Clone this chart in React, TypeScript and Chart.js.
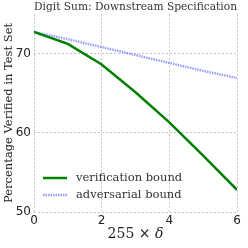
import React, { useEffect, useRef } from "react";
import { Chart, registerables } from "chart.js";

Chart.register(...registerables);

const deltas = [0, 1, 2, 3, 4, 5, 6];
const verificationBound = [72.7, 71.2, 68.6, 65.1, 61.3, 57.1, 52.8];
const adversarialBound = [72.7, 71.8, 70.8, 69.8, 68.8, 67.8, 66.9];
const yTicks = [50, 60, 70];
const xTicks = [0, 2, 4, 6];
const seriesNames = ["verification bound", "adversarial bound"];
const xTitleParts = ["255 × ", "δ"];

const SERIF = "'DejaVu Serif', serif";
const SANS = "'DejaVu Sans', sans-serif";

const legendPlugin = {
  id: "innerLegend",
  afterDatasetsDraw(chart: any) {
    const { ctx, chartArea } = chart;
    ctx.save();
    chart.data.datasets.forEach((ds: any, i: number) => {
      const y = chartArea.bottom - 34 + i * 17;
      const x0 = chartArea.left + 9;
      ctx.beginPath();
      ctx.strokeStyle = ds.borderColor;
      ctx.lineWidth = ds.borderWidth;
      ctx.setLineDash(ds.borderDash || []);
      ctx.moveTo(x0, y);
      ctx.lineTo(x0 + 24, y);
      ctx.stroke();
      ctx.setLineDash([]);
      ctx.fillStyle = "#333";
      ctx.font = `11.5px ${SERIF}`;
      ctx.textBaseline = "middle";
      ctx.textAlign = "left";
      ctx.fillText(ds.label, x0 + 33, y);
    });
    // x axis title with italic delta
    const cx = (chartArea.left + chartArea.right) / 2;
    const ty = 234;
    ctx.font = `14px ${SERIF}`;
    const w1 = ctx.measureText(xTitleParts[0]).width;
    ctx.font = `italic 14px ${SERIF}`;
    const w2 = ctx.measureText(xTitleParts[1]).width;
    let x = cx - (w1 + w2) / 2;
    ctx.fillStyle = "#222";
    ctx.textBaseline = "middle";
    ctx.textAlign = "left";
    ctx.font = `14px ${SERIF}`;
    ctx.fillText(xTitleParts[0], x, ty);
    ctx.font = `italic 14px ${SERIF}`;
    ctx.fillText(xTitleParts[1], x + w1, ty);
    ctx.restore();
  },
};

export default function App() {
  const ref = useRef<HTMLCanvasElement>(null);
  useEffect(() => {
    document.body.style.margin = "0";
    const chart = new Chart(ref.current!, {
      type: "line",
      data: {
        labels: deltas,
        datasets: [
          {
            label: seriesNames[0],
            data: deltas.map((d, i) => ({ x: d, y: verificationBound[i] })),
            borderColor: "#008000",
            borderWidth: 2.5,
            pointRadius: 0,
            tension: 0,
          },
          {
            label: seriesNames[1],
            data: deltas.map((d, i) => ({ x: d, y: adversarialBound[i] })),
            borderColor: "rgba(60,60,255,0.5)",
            borderWidth: 2.5,
            borderDash: [1.5, 1],
            pointRadius: 0,
            tension: 0,
          },
        ],
      },
      options: {
        animation: false,
        responsive: false,
        layout: { padding: { top: 0, right: 11, bottom: 0, left: 0 } },
        plugins: {
          legend: { display: false },
          tooltip: { enabled: false },
          title: {
            display: true,
            text: "Digit Sum: Downstream Specification",
            fullSize: false,
            color: "#333",
            font: { family: SERIF, size: 11.5, weight: "normal" },
            padding: { top: 0, bottom: 0 },
          },
        },
        scales: {
          x: {
            type: "linear",
            min: 0,
            max: 6,
            afterBuildTicks: (s: any) => {
              s.ticks = xTicks.map((v) => ({ value: v }));
            },
            afterFit: (s: any) => {
              s.height = 36;
            },
            border: { display: false, dash: [2, 2] },
            grid: { color: "#c4c4c4", drawTicks: false },
            ticks: {
              color: "#222",
              font: { family: SANS, size: 12 },
              padding: 2,
              maxRotation: 0,
            },
          },
          y: {
            min: 50,
            max: 75,
            afterBuildTicks: (s: any) => {
              s.ticks = yTicks.map((v) => ({ value: v }));
            },
            afterFit: (s: any) => {
              s.width = 34;
            },
            border: { display: false, dash: [2, 2] },
            grid: { color: "#c4c4c4", drawTicks: false },
            ticks: {
              color: "#222",
              font: { family: SANS, size: 12 },
              padding: 3,
            },
            title: {
              display: true,
              text: "Percentage Verified in Test Set",
              color: "#222",
              font: { family: SERIF, size: 11.5 },
              padding: { top: 2, bottom: 0 },
            },
          },
        },
      },
      plugins: [legendPlugin],
    } as any);
    return () => chart.destroy();
  }, []);
  return <canvas ref={ref} width={248} height={248} />;
}
